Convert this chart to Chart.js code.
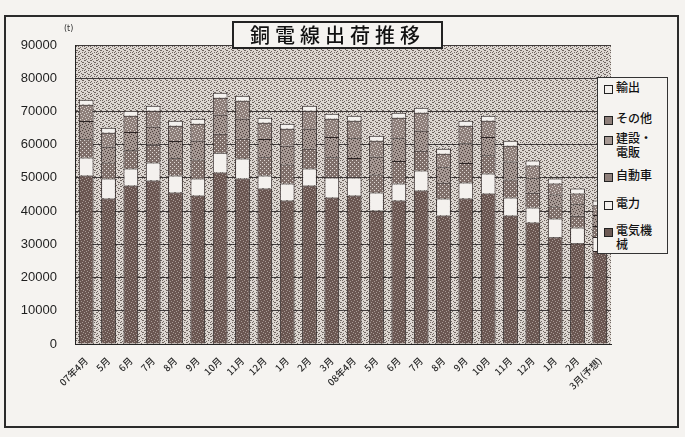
<!DOCTYPE html>
<html>
<head>
<meta charset="utf-8">
<script src="https://cdn.jsdelivr.net/npm/chart.js@4.4.1/dist/chart.umd.min.js"></script>
<style>
  html, body { margin:0; padding:0; background:#f5f3f0; }
  #wrap { position:relative; width:685px; height:437px; overflow:hidden; background:#f5f3f0; }
  #c { position:absolute; left:0; top:0; }
  #title { position:absolute; left:232px; top:21px; width:207px; height:24px; border:2px solid #222;
    background:#f5f3f0; font-family:"Noto Sans CJK JP", sans-serif; font-size:20px; line-height:24px;
    text-align:center; letter-spacing:5px; color:#111; font-weight:500; }
  #unit { position:absolute; left:64px; top:24px; font-family:"DejaVu Sans", sans-serif; font-size:8px; color:#333; }
  #legend { position:absolute; left:597px; top:77px; width:69px; height:175px; border:1px solid #333;
    background:#f5f3f0; font-family:"Noto Sans CJK JP", sans-serif; font-size:12px; color:#111; font-weight:500; }
  .li { position:absolute; left:6px; display:flex; align-items:flex-start; }
  .mk { width:7px; height:7px; border:1px solid #222; margin-top:5px; margin-right:3px; flex:none; }
  .tx { line-height:14px; width:50px; }
</style>
</head>
<body>
<div id="wrap">
  <canvas id="c" width="685" height="437"></canvas>
  <div id="title">銅電線出荷推移</div>
  <div id="unit">(t)</div>
  <div id="legend"></div>
</div>
<script>
// ---- data (t) ----
const categories = ["07年4月","5月","6月","7月","8月","9月","10月","11月","12月","1月","2月","3月",
                    "08年4月","5月","6月","7月","8月","9月","10月","11月","12月","1月","2月","3月(予想)"];
const denkiKikai = [50700,43800,47700,49200,45600,44700,51600,49800,46800,43200,47700,44100,
                    44700,40200,43200,46200,38700,43800,45300,38700,36600,32100,30300,28000];
const denryoku   = [5400,6000,5100,5400,5100,5100,6000,6000,3900,5100,5100,6000,
                    5400,5400,5100,6000,5100,4800,6000,5400,4500,5700,4800,4200];
const jidosha    = [5500,4800,5500,5400,5200,5700,5700,6000,5500,5700,6000,6100,
                    5900,5400,6800,6000,4700,5900,5500,5400,4400,3600,3500,3300];
const kensetsu   = [5500,4800,5500,5400,5200,5700,5700,6000,5500,5700,6000,6100,
                    5900,5400,6800,6000,4700,5900,5500,5400,4400,3600,3500,3300];
const sonota     = [4900,4200,4900,4800,4600,5100,5100,5400,4900,5100,5400,5500,
                    5300,4800,6200,5400,4100,5300,4900,4800,3800,3300,3200,3000];
const yushutsu   = [1500,1500,1500,1500,1500,1500,1500,1500,1500,1500,1500,1500,
                    1500,1500,1500,1500,1500,1500,1500,1500,1500,1500,1500,1400];
const yTicks = [0,10000,20000,30000,40000,50000,60000,70000,80000,90000];

// ---- textures (style only) ----
function pat(base, dot, size, pts) {
  const cv = document.createElement('canvas');
  cv.width = size; cv.height = size;
  const g = cv.getContext('2d');
  g.fillStyle = base; g.fillRect(0,0,size,size);
  g.fillStyle = dot;
  pts.forEach(p => g.fillRect(p[0], p[1], 1, 1));
  return document.createElement('canvas').getContext('2d').createPattern(cv, 'repeat');
}
const ptsA = [[0,0],[3,1],[1,3],[4,4],[2,5],[5,2]];
const ptsC = [[0,0],[3,1],[1,3],[4,4],[2,5],[5,2],[1,0],[4,2],[0,4]];
const bgPat     = pat('#ddd7d2', '#6f6560', 6, ptsC);
const darkPat   = pat('#6a5651', '#a89a95', 6, ptsA);
const midPat    = pat('#7f6f6a', '#e2dbd7', 4, [[0,0],[2,2]]);
const lightPat  = pat('#a69893', '#4a3e3a', 6, ptsA);
const otherPat  = pat('#8e7f7a', '#d9d1cd', 6, ptsA);

const series = [
  { label:'電気機械', data:denkiKikai, backgroundColor:darkPat, legend:'電気機<br>械', sw:'#6d5a54' },
  { label:'電力',     data:denryoku,   backgroundColor:'#f4f1ee', legend:'電力', sw:'#f4f1ee' },
  { label:'自動車',   data:jidosha,    backgroundColor:midPat, legend:'自動車', sw:'#8f807b' },
  { label:'建設・電販', data:kensetsu, backgroundColor:lightPat, legend:'建設・<br>電販', sw:'#a69893' },
  { label:'その他',   data:sonota,     backgroundColor:otherPat, legend:'その他', sw:'#8e7f7a' },
  { label:'輸出',     data:yushutsu,   backgroundColor:'#f4f1ee', legend:'輸出', sw:'#f4f1ee' }
];

// HTML legend (top = last stacked series)
const legendTops = [2, 33, 53, 90, 118, 145];
const leg = document.getElementById('legend');
series.slice().reverse().forEach((s, i) => {
  const d = document.createElement('div');
  d.className = 'li'; d.style.top = legendTops[i] + 'px';
  d.innerHTML = '<span class="mk" style="background:' + s.sw + '"></span><span class="tx">' + s.legend + '</span>';
  leg.appendChild(d);
});

const bgPlugin = {
  id:'bg',
  beforeDraw(chart) {
    const {ctx, chartArea:a} = chart;
    ctx.save();
    ctx.fillStyle = '#f5f3f0';
    ctx.fillRect(0,0,chart.width,chart.height);
    ctx.fillStyle = bgPat;
    ctx.fillRect(a.left, a.top, a.right - a.left, a.bottom - a.top);
    ctx.restore();
  },
  afterDraw(chart) {
    const ctx = chart.ctx;
    ctx.save();
    ctx.strokeStyle = '#2b2b2b'; ctx.lineWidth = 2;
    ctx.strokeRect(5, 16, 673, 411);
    ctx.restore();
  }
};

new Chart(document.getElementById('c'), {
  type:'bar',
  data:{
    labels:categories,
    datasets: series.map(s => ({
      label:s.label, data:s.data, backgroundColor:s.backgroundColor,
      borderColor:'#2a2222', borderWidth:1, barPercentage:0.66, categoryPercentage:1.0
    }))
  },
  options:{
    responsive:false, animation:false, devicePixelRatio:1,
    layout:{ padding:{ left:0, top:45, right:74, bottom:0 } },
    plugins:{ legend:{ display:false }, tooltip:{ enabled:false }, title:{ display:false } },
    scales:{
      x:{
        stacked:true,
        grid:{ display:false },
        border:{ display:true, color:'#222', width:1 },
        ticks:{ autoSkip:false, maxRotation:45, minRotation:45, padding:3,
                color:'#2a2a2a', font:{ family:'"Noto Sans CJK JP", sans-serif', size:9.5, weight:'500' } },
        afterFit(s){ s.height = 93; }
      },
      y:{
        stacked:true, min:0, max:90000,
        afterBuildTicks(s){ s.ticks = yTicks.map(v => ({ value:v })); },
        grid:{ color:'#3f3a3a', lineWidth:1, drawTicks:false },
        border:{ display:true, color:'#222', width:1 },
        ticks:{ padding:18, color:'#1e1e1e', font:{ family:'"Liberation Sans", Arial, sans-serif', size:13 },
                callback:v => String(v) },
        afterFit(s){ s.width = 75; }
      }
    }
  },
  plugins:[bgPlugin]
});
</script>
</body>
</html>
